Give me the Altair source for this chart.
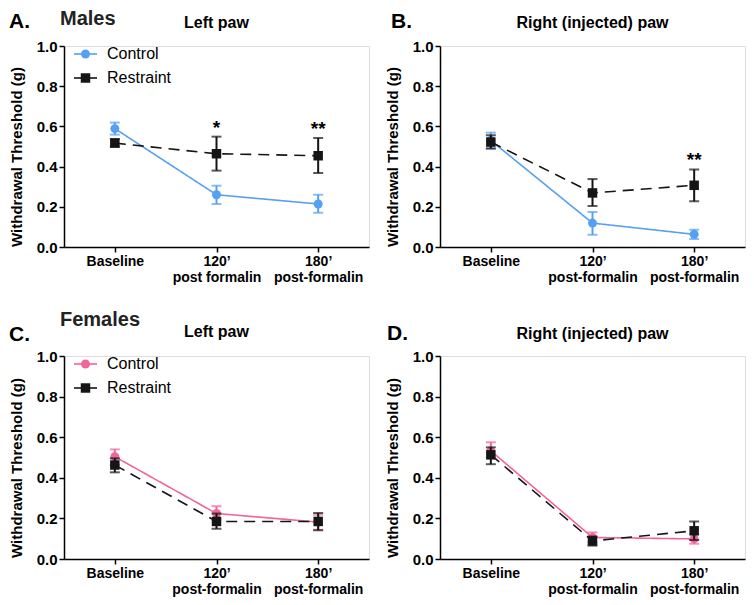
import altair as alt
import pandas as pd

FONT = "Liberation Sans"

timepoints = ["Baseline", "120’", "180’"]
groups = ["Control", "Restraint"]

# Panel A – Males, left paw
a_ctrl_mean = [0.589, 0.260, 0.214]
a_ctrl_lo = [0.559, 0.214, 0.171]
a_ctrl_hi = [0.619, 0.305, 0.260]
a_rest_mean = [0.517, 0.464, 0.454]
a_rest_lo = [0.500, 0.380, 0.368]
a_rest_hi = [0.537, 0.549, 0.542]
a_stars = ["", "*", "**"]
a_xlabels = ["", "post formalin", "post-formalin"]

# Panel B – Males, right (injected) paw
b_ctrl_mean = [0.530, 0.119, 0.063]
b_ctrl_lo = [0.490, 0.061, 0.040]
b_ctrl_hi = [0.569, 0.174, 0.086]
b_rest_mean = [0.522, 0.269, 0.307]
b_rest_lo = [0.490, 0.204, 0.227]
b_rest_hi = [0.556, 0.338, 0.386]
b_stars = ["", "", "**"]
b_xlabels = ["", "post-formalin", "post-formalin"]

# Panel C – Females, left paw
c_ctrl_mean = [0.504, 0.224, 0.182]
c_ctrl_lo = [0.463, 0.193, 0.144]
c_ctrl_hi = [0.540, 0.260, 0.218]
c_rest_mean = [0.463, 0.185, 0.185]
c_rest_lo = [0.427, 0.149, 0.142]
c_rest_hi = [0.496, 0.224, 0.227]
c_stars = ["", "", ""]
c_xlabels = ["", "post-formalin", "post-formalin"]

# Panel D – Females, right (injected) paw
d_ctrl_mean = [0.533, 0.106, 0.099]
d_ctrl_lo = [0.500, 0.083, 0.075]
d_ctrl_hi = [0.575, 0.131, 0.123]
d_rest_mean = [0.513, 0.089, 0.139]
d_rest_lo = [0.467, 0.066, 0.094]
d_rest_hi = [0.550, 0.111, 0.185]
d_stars = ["", "", ""]
d_xlabels = ["", "post-formalin", "post-formalin"]

BLUE = "#55A0F2"
PINK = "#F2649A"
BLACK = "#151515"

W = 305


def make_panel(cm, clo, chi, rm, rlo, rhi, stars, xlabels, ccolor, letter, sex, title,
               h, legend, letter_dx, letter_y, sex_y, title_y):
    rows = []
    for g, m, lo, hi in [("Control", cm, clo, chi), ("Restraint", rm, rlo, rhi)]:
        for i, t in enumerate(timepoints):
            rows.append({"time": t, "group": g, "mean": m[i], "lo": lo[i],
                         "hi": hi[i], "star": stars[i] if g == "Restraint" else ""})
    df = pd.DataFrame(rows)

    label_expr = ("datum.value == 'Baseline' ? datum.value : "
                  "datum.value == '" + timepoints[1] + "' ? [datum.value, '" + xlabels[1] + "'] : "
                  "[datum.value, '" + xlabels[2] + "']")
    x = alt.X("time:N", sort=timepoints,
              scale=alt.Scale(type="point", padding=0.5),
              axis=alt.Axis(title=None, labelExpr=label_expr, labelAngle=0,
                            labelFont=FONT, labelFontSize=14, labelFontWeight="bold",
                            labelColor="black", labelLineHeight=16, labelPadding=2,
                            tickSize=5, tickColor="black", tickWidth=1.5,
                            domainColor="black", domainWidth=1.5))
    yscale = alt.Scale(domain=[0, 1], nice=False)
    y = alt.Y("mean:Q", scale=yscale,
              axis=alt.Axis(title="Withdrawal Threshold (g)", values=[0, 0.2, 0.4, 0.6, 0.8, 1.0],
                            format=".1f", grid=False,
                            labelFont=FONT, labelFontSize=15, labelFontWeight="bold",
                            labelColor="black", labelPadding=2,
                            titleFont=FONT, titleFontSize=15, titleFontWeight="bold",
                            titleColor="black", titlePadding=12, titleY=h / 2 + 10,
                            tickSize=5, tickColor="black", tickWidth=1.5,
                            domainColor="black", domainWidth=1.5))
    color = alt.Color("group:N", scale=alt.Scale(domain=groups, range=[ccolor, BLACK]), legend=None)
    dash = alt.StrokeDash("group:N", scale=alt.Scale(domain=groups, range=[[1, 0], [11, 7]]), legend=None)
    shape = alt.Shape("group:N", scale=alt.Scale(domain=groups, range=["circle", "square"]), legend=None)

    base = alt.Chart(df)
    lines = base.mark_line(strokeWidth=1.6).encode(x=x, y=y, color=color, strokeDash=dash,
                                                   detail="group:N")
    layers = [lines]
    for g in groups:
        sub = base.transform_filter(alt.datum.group == g)
        bars = sub.mark_rule(strokeWidth=2).encode(x=x, y=alt.Y("lo:Q", scale=yscale), y2="hi:Q", color=color)
        cap_lo = sub.mark_tick(size=10, thickness=2).encode(x=x, y=alt.Y("lo:Q", scale=yscale), color=color)
        cap_hi = sub.mark_tick(size=10, thickness=2).encode(x=x, y=alt.Y("hi:Q", scale=yscale), color=color)
        pts = sub.mark_point(filled=True, opacity=1, size=80 if g == "Control" else 90).encode(
            x=x, y=y, color=color, shape=shape)
        layers += [bars, cap_lo, cap_hi, pts]

    star_txt = base.transform_filter(alt.datum.star != "").mark_text(
        font=FONT, fontSize=19, fontWeight="bold", color="black", baseline="alphabetic", dy=-3
    ).encode(x=x, y=alt.Y("hi:Q", scale=yscale), text="star:N")
    layers.append(star_txt)

    one = pd.DataFrame({"k": [0]})
    ann = alt.Chart(one)
    layers.append(ann.mark_text(font=FONT, fontSize=21, fontWeight="bold", align="left",
                                baseline="alphabetic", color="black").encode(
        x=alt.value(letter_dx), y=alt.value(letter_y), text=alt.value(letter)))
    if sex:
        layers.append(ann.mark_text(font=FONT, fontSize=20, fontWeight="bold", align="left",
                                    baseline="alphabetic", color="#222").encode(
            x=alt.value(-4), y=alt.value(sex_y), text=alt.value(sex)))
    layers.append(ann.mark_text(font=FONT, fontSize=16, fontWeight="bold", align="center",
                                baseline="alphabetic", color="black").encode(
        x=alt.value(W / 2), y=alt.value(title_y), text=alt.value(title)))

    if legend:
        for (g, col, shp, ly) in [("Control", ccolor, "circle", 8),
                                   ("Restraint", BLACK, "square", 32)]:
            layers.append(ann.mark_rule(strokeWidth=1.6, color=col).encode(
                x=alt.value(10), x2=alt.value(33), y=alt.value(ly)))
            layers.append(ann.mark_point(shape=shp, filled=True, opacity=1, color=col,
                                         size=80 if g == "Control" else 90).encode(
                x=alt.value(21.5), y=alt.value(ly)))
            layers.append(ann.mark_text(font=FONT, fontSize=16, align="left", baseline="middle",
                                        color="black").encode(
                x=alt.value(43), y=alt.value(ly), text=alt.value(g)))

    return alt.layer(*layers).properties(width=W, height=h)


A = make_panel(a_ctrl_mean, a_ctrl_lo, a_ctrl_hi, a_rest_mean, a_rest_lo, a_rest_hi, a_stars, a_xlabels,
               BLUE, "A.", "Males", "Left paw", 201, True, -55, -18, -21, -18)
B = make_panel(b_ctrl_mean, b_ctrl_lo, b_ctrl_hi, b_rest_mean, b_rest_lo, b_rest_hi, b_stars, b_xlabels,
               BLUE, "B.", None, "Right (injected) paw", 201, False, -49, -18, 0, -18)
C = make_panel(c_ctrl_mean, c_ctrl_lo, c_ctrl_hi, c_rest_mean, c_rest_lo, c_rest_hi, c_stars, c_xlabels,
               PINK, "C.", "Females", "Left paw", 203, True, -55, -15, -30, -19)
D = make_panel(d_ctrl_mean, d_ctrl_lo, d_ctrl_hi, d_rest_mean, d_rest_lo, d_rest_hi, d_stars, d_xlabels,
               PINK, "D.", None, "Right (injected) paw", 203, False, -53, -16, 0, -17)

chart = alt.concat(A, B, C, D, columns=2).properties(
    spacing={"row": 109, "column": 71}, bounds="flush", padding=0
).resolve_scale(color="independent").configure_view(stroke=None).configure(background="white")

chart.save("out.html", embed_options={"renderer": "svg", "actions": False})
